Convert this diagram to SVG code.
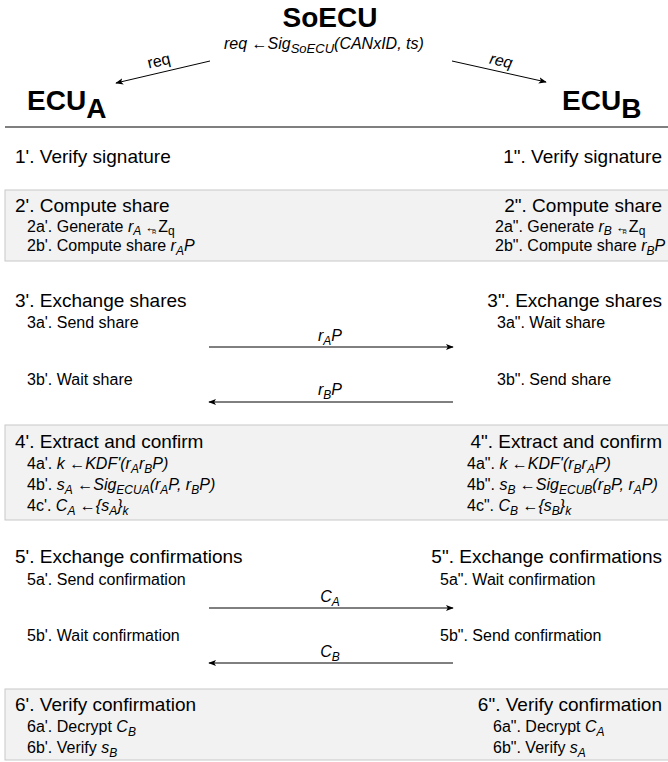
<svg xmlns="http://www.w3.org/2000/svg" width="668" height="762" viewBox="0 0 668 762">
<defs>
<marker id="ah" viewBox="0 0 10 10" refX="9" refY="5" markerWidth="8" markerHeight="8" markerUnits="userSpaceOnUse" orient="auto">
<path d="M0,1 L10,5 L0,9 L2.5,5 Z" fill="#000"/>
</marker>
</defs>
<style>
text{font-family:"Liberation Sans",Arial,sans-serif;fill:#000}
.big{font-size:28px;font-weight:bold}
.t{font-size:19px}
.s{font-size:16px}
.i{font-style:italic}
.sb{font-size:12px}
.box{fill:#f2f2f2;stroke:#c8c8c8;stroke-width:1}
.ln{stroke:#000;stroke-width:1;fill:none}
.end{text-anchor:end}
</style>
<rect width="668" height="762" fill="#fff"/>
<g id="boxes">
<rect class="box" x="5" y="190" width="668" height="71"/>
<rect class="box" x="5" y="425" width="668" height="95"/>
<rect class="box" x="5" y="689" width="668" height="71"/>
</g>
<line x1="5" y1="127" x2="668" y2="127" stroke="#555" stroke-width="1.5"/>
<g id="soecu">
<text class="big" x="330" y="27" text-anchor="middle">SoECU</text>
<text class="s i" x="224" y="49">req<tspan font-style="normal"> ←</tspan>Sig<tspan font-size="13" dy="4">SoECU</tspan><tspan dy="-4">(CANxID, ts)</tspan></text>
</g>
<g id="ecua">
<text class="big" x="27" y="110">ECU<tspan dy="8">A</tspan></text>
</g>
<g id="ecub">
<text class="big" x="562" y="110">ECU<tspan dy="8">B</tspan></text>
</g>
<g id="connectors">
<line class="ln" x1="210" y1="61" x2="116" y2="83" marker-end="url(#ah)"/>
<line class="ln" x1="452" y1="61" x2="546" y2="82" marker-end="url(#ah)"/>
<line class="ln" x1="209" y1="347" x2="453" y2="347" marker-end="url(#ah)"/>
<line class="ln" x1="453" y1="402" x2="209" y2="402" marker-end="url(#ah)"/>
<line class="ln" x1="209" y1="608" x2="453" y2="608" marker-end="url(#ah)"/>
<line class="ln" x1="453" y1="663" x2="209" y2="663" marker-end="url(#ah)"/>
<text class="s" x="160" y="66" text-anchor="middle" transform="rotate(-13 160 66)">req</text>
<text class="s i" x="500" y="66" text-anchor="middle" transform="rotate(12 500 66)">req</text>
<text class="s i" x="330" y="341" text-anchor="middle">r<tspan class="sb" dy="4">A</tspan><tspan dy="-4">P</tspan></text>
<text class="s i" x="330" y="395" text-anchor="middle">r<tspan class="sb" dy="4">B</tspan><tspan dy="-4">P</tspan></text>
<text class="s i" x="330" y="602" text-anchor="middle">C<tspan class="sb" dy="4">A</tspan></text>
<text class="s i" x="330" y="657" text-anchor="middle">C<tspan class="sb" dy="4">B</tspan></text>
</g>
<g id="ecua-steps">
<text class="t" x="15" y="163">1'. Verify signature</text>
<text class="t" x="15" y="212">2'. Compute share</text>
<text class="s" x="27" y="232">2a'. Generate <tspan class="i">r</tspan><tspan class="i sb" dy="3">A</tspan><tspan dy="-3" font-size="13"> ←</tspan><tspan font-size="6" dx="-6" dy="2">R</tspan><tspan dy="-2" dx="2">Z</tspan><tspan class="sb" dy="3">q</tspan></text>
<text class="s" x="27" y="251">2b'. Compute share <tspan class="i">r</tspan><tspan class="i sb" dy="4">A</tspan><tspan class="i" dy="-4">P</tspan></text>
<text class="t" x="15" y="307">3'. Exchange shares</text>
<text class="s" x="27" y="328">3a'. Send share</text>
<text class="s" x="27" y="385">3b'. Wait share</text>
<text class="t" x="15" y="448">4'. Extract and confirm</text>
<text class="s" x="27" y="469">4a'. <tspan class="i">k ←KDF'(r</tspan><tspan class="i sb" dy="4">A</tspan><tspan class="i" dy="-4">r</tspan><tspan class="i sb" dy="4">B</tspan><tspan class="i" dy="-4">P)</tspan></text>
<text class="s" x="27" y="490">4b'. <tspan class="i">s</tspan><tspan class="i sb" dy="4">A</tspan><tspan class="i" dy="-4"> ←Sig</tspan><tspan class="i sb" dy="4">ECUA</tspan><tspan class="i" dy="-4">(r</tspan><tspan class="i sb" dy="4">A</tspan><tspan class="i" dy="-4">P, r</tspan><tspan class="i sb" dy="4">B</tspan><tspan class="i" dy="-4">P)</tspan></text>
<text class="s" x="27" y="511">4c'. <tspan class="i">C</tspan><tspan class="i sb" dy="4">A</tspan><tspan class="i" dy="-4"> ←{s</tspan><tspan class="i sb" dy="4">A</tspan><tspan class="i" dy="-4">}</tspan><tspan class="i sb" dy="4">k</tspan></text>
<text class="t" x="15" y="563">5'. Exchange confirmations</text>
<text class="s" x="27" y="585">5a'. Send confirmation</text>
<text class="s" x="27" y="641">5b'. Wait confirmation</text>
<text class="t" x="15" y="711">6'. Verify confirmation</text>
<text class="s" x="27" y="732">6a'. Decrypt <tspan class="i">C</tspan><tspan class="i sb" dy="4">B</tspan></text>
<text class="s" x="27" y="753">6b'. Verify <tspan class="i">s</tspan><tspan class="i sb" dy="4">B</tspan></text>
</g>
<g id="ecub-steps">
<text class="t end" x="662" y="163">1". Verify signature</text>
<text class="t end" x="662" y="212">2". Compute share</text>
<text class="s" x="495" y="232">2a". Generate <tspan class="i">r</tspan><tspan class="i sb" dy="3">B</tspan><tspan dy="-3" font-size="13"> ←</tspan><tspan font-size="6" dx="-6" dy="2">R</tspan><tspan dy="-2" dx="2">Z</tspan><tspan class="sb" dy="3">q</tspan></text>
<text class="s" x="495" y="251">2b". Compute share <tspan class="i">r</tspan><tspan class="i sb" dy="4">B</tspan><tspan class="i" dy="-4">P</tspan></text>
<text class="t end" x="662" y="307">3". Exchange shares</text>
<text class="s" x="497" y="328">3a". Wait share</text>
<text class="s" x="497" y="385">3b". Send share</text>
<text class="t end" x="662" y="448">4". Extract and confirm</text>
<text class="s" x="467" y="469">4a". <tspan class="i">k ←KDF'(r</tspan><tspan class="i sb" dy="4">B</tspan><tspan class="i" dy="-4">r</tspan><tspan class="i sb" dy="4">A</tspan><tspan class="i" dy="-4">P)</tspan></text>
<text class="s" x="467" y="490">4b". <tspan class="i">s</tspan><tspan class="i sb" dy="4">B</tspan><tspan class="i" dy="-4"> ←Sig</tspan><tspan class="i sb" dy="4">ECUB</tspan><tspan class="i" dy="-4">(r</tspan><tspan class="i sb" dy="4">B</tspan><tspan class="i" dy="-4">P, r</tspan><tspan class="i sb" dy="4">A</tspan><tspan class="i" dy="-4">P)</tspan></text>
<text class="s" x="467" y="511">4c". <tspan class="i">C</tspan><tspan class="i sb" dy="4">B</tspan><tspan class="i" dy="-4"> ←{s</tspan><tspan class="i sb" dy="4">B</tspan><tspan class="i" dy="-4">}</tspan><tspan class="i sb" dy="4">k</tspan></text>
<text class="t end" x="662" y="563">5". Exchange confirmations</text>
<text class="s" x="440" y="585">5a". Wait confirmation</text>
<text class="s" x="440" y="641">5b". Send confirmation</text>
<text class="t end" x="662" y="711">6". Verify confirmation</text>
<text class="s" x="493" y="732">6a". Decrypt <tspan class="i">C</tspan><tspan class="i sb" dy="4">A</tspan></text>
<text class="s" x="493" y="753">6b". Verify <tspan class="i">s</tspan><tspan class="i sb" dy="4">A</tspan></text>
</g>
</svg>
